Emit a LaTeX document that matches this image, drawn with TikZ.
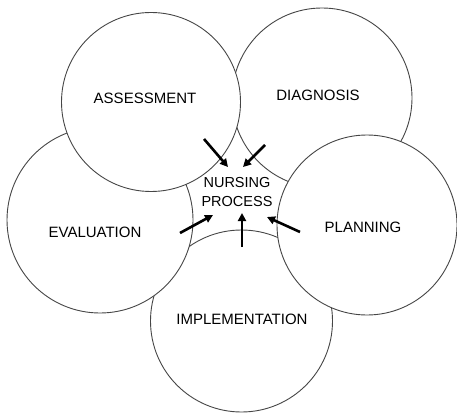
\documentclass[tikz,border=0pt]{standalone}
\usepackage{fontspec}
\setmainfont{Liberation Sans}
\usetikzlibrary{positioning, arrows.meta, calc}
\definecolor{scangray}{RGB}{70, 70, 70}

\begin{document}
\begin{tikzpicture}[
    x=1pt, y=-1pt,
    phase/.style={ % Style for the phase circles
        circle,
        draw=scangray,
        line width=0.9pt,
        fill=white,
        minimum size=#1,
        inner sep=0pt
    },
    phase/.default=180pt,
    word/.style={font=\fontsize{15}{19}\selectfont, inner sep=0pt},
    % Arrow style
    arrow/.style={
        -{Triangle[length=8pt, width=8pt]},
        line width=2.6pt,
        draw=black
    }
]
\useasboundingbox (0,0) rectangle (457,414);

% Circles, drawn bottom layer first
\node[phase] (diag) at (322,98) {};
\node[phase=182pt] (impl) at (241.5,321) {};
\node[phase=186pt] (eval) at (100,220) {};
\node[phase=179pt] (assess) at (151,102) {};
\node[phase] (plan) at (367,225) {};

% Phase names
\node[word] (assesstxt) at (145,98) {ASSESSMENT};
\node[word] (diagtxt) at (318,95) {DIAGNOSIS};
\node[word] (evaltxt) at (95,232) {EVALUATION};
\node[word] (plantxt) at (363,227) {PLANNING};
\node[word] (impltxt) at (242,319) {IMPLEMENTATION};

% Centre
\node[word, font=\fontsize{14.5}{19}\selectfont, align=center] (nursing) at (237,192) {NURSING\\PROCESS};

% Arrows into the centre
\coordinate (fromassess) at (204,139);
\coordinate (toassess) at (228,167);
\coordinate (fromdiag) at (265,145);
\coordinate (todiag) at (243,167);
\coordinate (fromeval) at (180,233);
\coordinate (toeval) at (213,215);
\coordinate (fromimpl) at (242,247);
\coordinate (toimpl) at (242,213);
\coordinate (fromplan) at (300,232);
\coordinate (toplan) at (267,217);

\draw[arrow] (fromassess) -- (toassess);
\draw[arrow] (fromdiag) -- (todiag);
\draw[arrow] (fromeval) -- (toeval);
\draw[arrow] (fromimpl) -- (toimpl);
\draw[arrow] (fromplan) -- (toplan);

\end{tikzpicture}
\end{document}
